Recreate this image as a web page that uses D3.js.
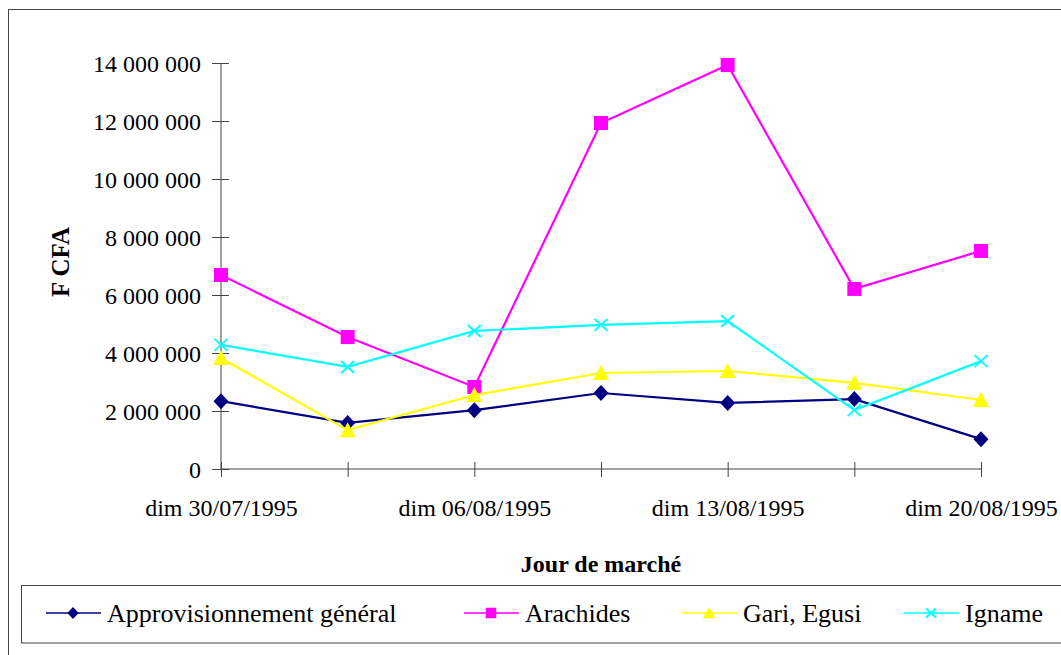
<!DOCTYPE html>
<html>
<head>
<meta charset="utf-8">
<script src="https://cdn.jsdelivr.net/npm/d3@7"></script>
<style>
  body { margin: 0; background: #fff; }
  text { font-family: 'Liberation Serif', 'Times New Roman', serif; fill: #000; }
</style>
</head>
<body>
<svg id="chart" width="1061" height="655"></svg>
<script>
const categories = ['dim 30/07/1995', 'jeu 03/08/1995', 'dim 06/08/1995', 'jeu 10/08/1995',
  'dim 13/08/1995', 'jeu 17/08/1995', 'dim 20/08/1995'];
const shownLabels = ['dim 30/07/1995', 'dim 06/08/1995', 'dim 13/08/1995', 'dim 20/08/1995'];
const yTicks = [0, 2000000, 4000000, 6000000, 8000000, 10000000, 12000000, 14000000];

const approGeneral = [2340000, 1590000, 2030000, 2620000, 2280000, 2410000, 1030000];
const arachides = [6690000, 4550000, 2830000, 11930000, 13930000, 6210000, 7520000];
const gariEgusi = [3830000, 1340000, 2550000, 3310000, 3380000, 2970000, 2380000];
const igname = [4280000, 3520000, 4760000, 4970000, 5100000, 2030000, 3720000];

const series = [
  { name: 'Approvisionnement général', values: approGeneral, color: '#000080', marker: 'diamond' },
  { name: 'Arachides', values: arachides, color: '#ff00ff', marker: 'square' },
  { name: 'Gari, Egusi', values: gariEgusi, color: '#ffff00', marker: 'triangle' },
  { name: 'Igname', values: igname, color: '#00ffff', marker: 'cross' }
];

const svg = d3.select('#chart');

// outer frame (right and bottom edges run off the picture)
svg.append('rect')
  .attr('x', 8.5).attr('y', 9.5).attr('width', 1070).attr('height', 670)
  .attr('fill', 'none').attr('stroke', '#444').attr('stroke-width', 1);

const x = d3.scalePoint().domain(categories).range([221, 981]);
const y = d3.scaleLinear().domain([0, 14000000]).range([469, 63]);

const fmt = v => d3.format(',')(v).replace(/,/g, ' ');

// y axis
const yAxis = svg.append('g').attr('transform', 'translate(221,0)')
  .call(d3.axisLeft(y).tickValues(yTicks).tickSize(9).tickFormat(fmt));
yAxis.selectAll('.tick line').attr('x1', 8).attr('x2', -9);
yAxis.select('.domain').attr('d', `M0,${y(0)}V${y(14000000)}`);
yAxis.selectAll('path, line').attr('stroke', '#444');
yAxis.selectAll('text').attr('font-size', 24).attr('x', -20).attr('dy', '0.34em');

// x axis
const xAxis = svg.append('g').attr('transform', `translate(0,${y(0)})`)
  .call(d3.axisBottom(x).tickSize(8)
    .tickFormat(d => shownLabels.includes(d) ? d : ''));
xAxis.selectAll('.tick line').attr('y1', -7).attr('y2', 8);
xAxis.select('.domain').attr('d', `M${x(categories[0])},0H${x(categories[categories.length - 1])}`);
xAxis.selectAll('path, line').attr('stroke', '#444');
xAxis.selectAll('text').attr('font-size', 24).attr('y', 30).attr('dy', '0.71em');

// axis titles
svg.append('text')
  .attr('transform', 'translate(69,262) rotate(-90)')
  .attr('text-anchor', 'middle').attr('font-weight', 'bold').attr('font-size', 25)
  .text('F CFA');
svg.append('text')
  .attr('x', 601).attr('y', 572)
  .attr('text-anchor', 'middle').attr('font-weight', 'bold').attr('font-size', 24)
  .text('Jour de marché');

const line = d3.line()
  .x((d, i) => x(categories[i]))
  .y(d => y(d));

function drawMarker(g, type, color, k) {
  if (type === 'diamond') {
    g.append('path').attr('d', `M0,${-8 * k}L${7.5 * k},0L0,${8 * k}L${-7.5 * k},0Z`).attr('fill', color);
  } else if (type === 'square') {
    g.append('rect').attr('x', -7 * k).attr('y', -7 * k).attr('width', 14 * k).attr('height', 14 * k)
      .attr('fill', color);
  } else if (type === 'triangle') {
    g.append('path').attr('d', `M0,${-8 * k}L${8 * k},${7 * k}L${-8 * k},${7 * k}Z`).attr('fill', color);
  } else {
    g.append('path').attr('d', `M${-6.5 * k},${-6 * k}L${6.5 * k},${6 * k}M${-6.5 * k},${6 * k}L${6.5 * k},${-6 * k}`)
      .attr('stroke', color).attr('stroke-width', 2).attr('fill', 'none');
  }
}

series.forEach(s => {
  svg.append('path')
    .datum(s.values)
    .attr('d', line)
    .attr('fill', 'none')
    .attr('stroke', s.color)
    .attr('stroke-width', 2.2);
  s.values.forEach((v, i) => {
    const g = svg.append('g').attr('transform', `translate(${x(categories[i])},${y(v)})`);
    drawMarker(g, s.marker, s.color, 1);
  });
});

// legend
svg.append('rect')
  .attr('x', 21.5).attr('y', 585.5).attr('width', 1060).attr('height', 57.5)
  .attr('fill', 'none').attr('stroke', '#444').attr('stroke-width', 1);

const legendX = [46, 464, 682, 904];
series.forEach((s, i) => {
  const g = svg.append('g').attr('transform', `translate(${legendX[i]},613)`);
  g.append('line').attr('x1', 0).attr('x2', 55).attr('y1', 0).attr('y2', 0)
    .attr('stroke', s.color).attr('stroke-width', 1.6);
  const m = g.append('g').attr('transform', 'translate(27,0)');
  drawMarker(m, s.marker, s.color, 0.75);
  g.append('text').attr('x', 61).attr('y', 9)
    .attr('font-size', 26).text(s.name);
});
</script>
</body>
</html>
